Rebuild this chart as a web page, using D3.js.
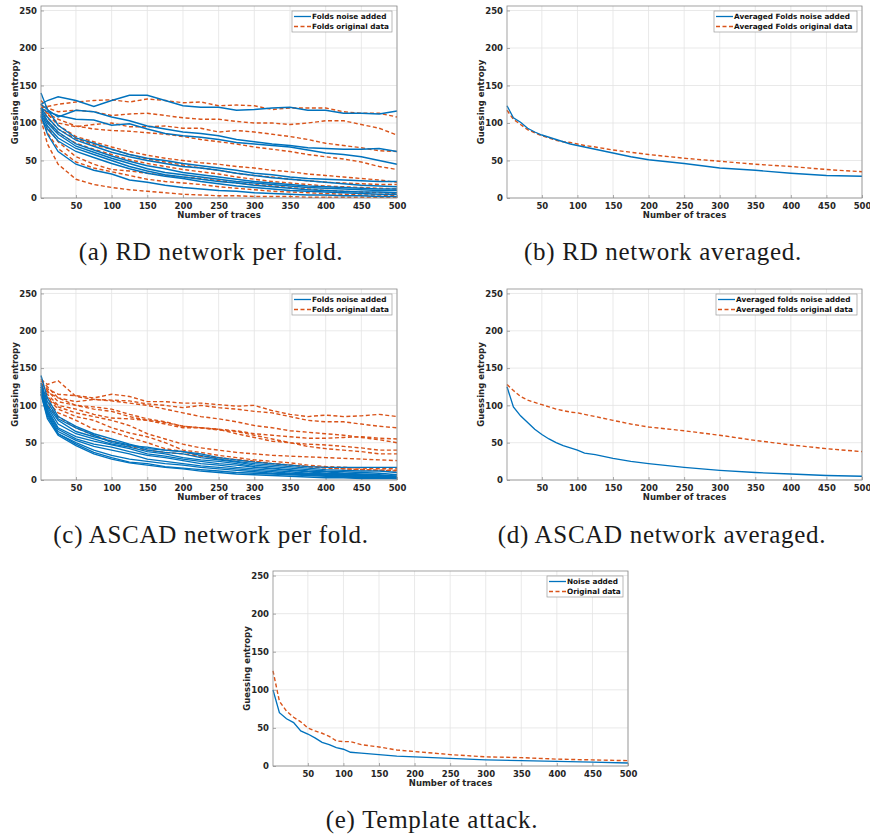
<!DOCTYPE html>
<html>
<head>
<meta charset="utf-8">
<script src="https://cdn.jsdelivr.net/npm/d3@7"></script>
<style>
  body { margin: 0; background: #fff; }
  svg { display: block; }
  .tick text { font-family: "DejaVu Sans", sans-serif; font-weight: bold; font-size: 8.5px; fill: #262626; }
</style>
</head>
<body>
<svg id="fig" width="870" height="837"></svg>
<script>
// x positions (number of traces) used for the per-fold curves
const foldX = [1, 10, 25, 50, 75, 100, 125, 150, 175, 200, 225, 250, 275, 300, 325, 350, 375, 400, 425, 450, 475, 500];
// x positions used for the averaged / template curves
const avgX = [1, 10, 20, 30, 40, 50, 60, 70, 80, 90, 100, 110, 125, 150, 175, 200, 250, 300, 350, 400, 450, 500];

const xTicks = [50, 100, 150, 200, 250, 300, 350, 400, 450, 500];
const yTicks = [0, 50, 100, 150, 200, 250];

// (a) RD network per fold
const rdNoiseFolds = [
  [125, 130, 135, 130, 122, 130, 137, 137, 130, 123, 121, 121, 117, 118, 120, 121, 117, 117, 113, 113, 112, 116],
  [125, 118, 108, 117, 115, 108, 103, 96, 92, 88, 86, 83, 78, 75, 72, 70, 67, 66, 65, 65, 66, 62],
  [120, 115, 110, 105, 104, 97, 99, 92, 86, 83, 81, 78, 74, 72, 70, 68, 64, 60, 58, 55, 50, 45],
  [140, 118, 97, 80, 73, 65, 58, 53, 50, 46, 43, 40, 37, 33, 31, 28, 26, 25, 24, 23, 22, 22],
  [120, 108, 92, 77, 69, 61, 55, 50, 46, 42, 40, 37, 33, 30, 27, 25, 23, 21, 19, 17, 16, 15],
  [118, 103, 88, 72, 64, 56, 49, 43, 39, 34, 31, 28, 25, 22, 20, 18, 16, 15, 14, 13, 12, 12],
  [115, 100, 85, 69, 61, 53, 46, 39, 34, 31, 28, 25, 22, 20, 18, 16, 14, 13, 12, 11, 10, 10],
  [112, 96, 80, 66, 58, 50, 42, 36, 31, 28, 25, 22, 20, 17, 15, 13, 11, 10, 9, 8, 8, 7],
  [108, 92, 76, 62, 54, 46, 39, 33, 29, 26, 22, 19, 16, 14, 12, 10, 9, 8, 7, 6, 5, 5],
  [110, 85, 62, 45, 37, 32, 24, 21, 17, 14, 12, 10, 9, 7, 6, 5, 4, 4, 3, 3, 2, 2]
];
const rdOrigFolds = [
  [120, 122, 125, 128, 130, 131, 128, 132, 130, 127, 128, 123, 124, 123, 118, 120, 120, 120, 115, 113, 113, 108],
  [130, 120, 115, 117, 115, 110, 112, 113, 110, 107, 105, 105, 102, 100, 100, 98, 100, 103, 103, 98, 93, 84],
  [125, 112, 100, 95, 98, 100, 95, 95, 96, 93, 93, 88, 90, 88, 85, 82, 78, 73, 70, 67, 63, 62],
  [120, 113, 105, 96, 92, 90, 89, 87, 85, 82, 78, 75, 72, 68, 65, 62, 58, 55, 52, 48, 42, 38],
  [125, 112, 97, 82, 75, 68, 62, 57, 53, 50, 47, 45, 42, 40, 37, 35, 32, 30, 28, 26, 24, 21],
  [120, 107, 92, 79, 71, 65, 58, 52, 48, 44, 40, 37, 33, 30, 28, 25, 23, 21, 20, 19, 18, 18],
  [118, 102, 87, 73, 65, 58, 51, 46, 42, 38, 35, 32, 28, 25, 22, 20, 18, 16, 15, 14, 13, 12],
  [115, 95, 75, 55, 45, 38, 36, 33, 30, 28, 26, 23, 20, 18, 16, 14, 12, 10, 9, 8, 7, 6],
  [110, 87, 66, 48, 40, 35, 30, 25, 22, 20, 18, 15, 13, 11, 9, 8, 7, 6, 5, 4, 4, 3],
  [105, 72, 45, 25, 18, 14, 11, 9, 7, 5, 4, 3, 3, 2, 2, 2, 1, 1, 1, 1, 1, 1]
];

// (b) RD network averaged
const rdNoiseAvg = [123, 107, 101, 93, 88, 84, 81, 78, 75, 72, 70, 68, 65, 60, 55, 51, 46, 40, 37, 33, 30, 29];
const rdOrigAvg = [117, 105, 98, 91, 87, 83, 80, 77, 75, 74, 72, 70, 68, 64, 61, 58, 53, 49, 45, 42, 38, 35];

// (c) ASCAD network per fold
const ascadNoiseFolds = [
  [140, 110, 85, 72, 62, 55, 48, 42, 40, 38, 35, 30, 27, 24, 22, 20, 18, 17, 17, 17, 17, 17],
  [130, 105, 82, 70, 60, 50, 46, 44, 40, 38, 33, 28, 25, 22, 20, 18, 16, 14, 13, 12, 12, 10],
  [128, 100, 80, 65, 58, 52, 47, 40, 37, 35, 30, 27, 24, 20, 18, 16, 14, 12, 11, 10, 9, 7],
  [125, 98, 75, 62, 55, 48, 44, 38, 35, 30, 27, 25, 22, 18, 16, 14, 12, 11, 9, 8, 7, 5],
  [125, 95, 70, 58, 52, 47, 42, 35, 32, 28, 25, 22, 20, 17, 15, 13, 11, 9, 8, 7, 6, 5],
  [122, 92, 68, 55, 48, 44, 38, 33, 30, 26, 22, 20, 17, 15, 13, 11, 9, 8, 7, 6, 5, 4],
  [120, 90, 65, 53, 45, 40, 35, 28, 25, 22, 19, 17, 15, 13, 11, 9, 8, 7, 6, 5, 4, 3],
  [118, 88, 62, 50, 40, 33, 28, 25, 22, 20, 17, 15, 13, 11, 9, 8, 7, 6, 5, 4, 3, 3],
  [115, 85, 62, 48, 37, 30, 24, 22, 18, 16, 14, 12, 10, 9, 8, 7, 6, 5, 4, 3, 3, 2],
  [115, 82, 60, 46, 35, 28, 23, 20, 17, 15, 12, 10, 8, 7, 6, 5, 4, 3, 3, 2, 2, 2]
];
const ascadOrigFolds = [
  [130, 122, 115, 113, 110, 115, 112, 105, 105, 103, 103, 101, 99, 100, 93, 88, 85, 87, 85, 86, 88, 85],
  [125, 118, 110, 105, 108, 107, 106, 102, 100, 97, 100, 97, 95, 92, 90, 85, 80, 78, 78, 75, 72, 70],
  [133, 125, 110, 100, 98, 95, 88, 82, 78, 72, 70, 68, 66, 62, 60, 58, 56, 56, 57, 58, 56, 55],
  [128, 120, 105, 100, 95, 92, 85, 80, 75, 70, 70, 67, 65, 60, 55, 50, 48, 47, 45, 43, 40, 40],
  [122, 115, 100, 95, 88, 83, 82, 80, 77, 72, 70, 68, 62, 57, 52, 50, 45, 42, 40, 38, 35, 35],
  [125, 112, 98, 90, 85, 80, 73, 62, 55, 48, 43, 40, 37, 35, 33, 32, 31, 30, 29, 28, 27, 26],
  [120, 110, 95, 85, 80, 70, 63, 58, 50, 40, 37, 33, 30, 27, 25, 23, 20, 18, 17, 16, 15, 15],
  [118, 105, 90, 80, 68, 65, 57, 50, 42, 38, 32, 30, 27, 25, 22, 20, 18, 16, 15, 14, 13, 13],
  [135, 128, 133, 112, 108, 106, 103, 100, 95, 90, 85, 82, 78, 73, 70, 66, 64, 62, 60, 57, 54, 50],
  [115, 100, 85, 70, 60, 52, 45, 40, 37, 35, 32, 30, 27, 25, 22, 20, 18, 17, 15, 14, 13, 12]
];

// (d) ASCAD network averaged
const ascadNoiseAvg = [125, 98, 86, 77, 68, 61, 55, 50, 46, 43, 40, 36, 34, 29, 25, 22, 17, 13, 10, 8, 6, 5];
const ascadOrigAvg = [128, 120, 112, 107, 104, 101, 98, 95, 93, 91, 90, 88, 85, 80, 75, 71, 66, 60, 53, 47, 42, 38];

// (e) Template attack
const templNoise = [100, 70, 62, 57, 46, 42, 37, 31, 28, 24, 22, 18, 17, 15, 13, 12, 10, 8, 7, 6, 5, 4];
const templOrig = [125, 85, 72, 64, 58, 50, 46, 43, 39, 33, 32, 32, 28, 25, 21, 19, 15, 12, 11, 9, 8, 7];

const blue = "#0072BD";
const orange = "#D95319";

const svg = d3.select("#fig");

function drawPanel(p) {
  const g = svg.append("g");
  const x = d3.scaleLinear().domain([1, 500]).range([p.left, p.right]);
  const y = d3.scaleLinear().domain([0, 256]).range([p.bottom, p.top]);

  // grid
  g.append("g").selectAll("line").data(xTicks).join("line")
    .attr("x1", d => x(d)).attr("x2", d => x(d))
    .attr("y1", p.top).attr("y2", p.bottom)
    .attr("stroke", "#e3e3e3").attr("stroke-width", 0.8);
  g.append("g").selectAll("line").data(yTicks).join("line")
    .attr("x1", p.left).attr("x2", p.right)
    .attr("y1", d => y(d)).attr("y2", d => y(d))
    .attr("stroke", "#e3e3e3").attr("stroke-width", 0.8);

  // axes (ticks inward like matlab)
  const xAxis = d3.axisBottom(x).tickValues(xTicks).tickSize(-3).tickPadding(5);
  const yAxis = d3.axisLeft(y).tickValues(yTicks).tickSize(-3).tickPadding(4);
  const gx = g.append("g").attr("transform", `translate(0,${p.bottom})`).call(xAxis);
  const gy = g.append("g").attr("transform", `translate(${p.left},0)`).call(yAxis);
  [gx, gy].forEach(a => {
    a.select(".domain").remove();
    a.selectAll(".tick line").attr("stroke", "#777").attr("stroke-width", 0.6);
  });

  const line = d3.line().x(d => x(d[0])).y(d => y(d[1]));

  // original data first, noise on top
  p.orig.forEach(s => {
    g.append("path").datum(p.xs.map((xv, i) => [xv, s[i]]))
      .attr("d", line).attr("fill", "none")
      .attr("stroke", orange).attr("stroke-width", 1.4)
      .attr("stroke-dasharray", "4,2.5");
  });
  p.noise.forEach(s => {
    g.append("path").datum(p.xs.map((xv, i) => [xv, s[i]]))
      .attr("d", line).attr("fill", "none")
      .attr("stroke", blue).attr("stroke-width", 1.35);
  });

  // box
  g.append("rect").attr("x", p.left).attr("y", p.top)
    .attr("width", p.right - p.left).attr("height", p.bottom - p.top)
    .attr("fill", "none").attr("stroke", "#8c8c8c").attr("stroke-width", 0.8);

  // axis labels
  g.append("text")
    .attr("x", (p.left + p.right) / 2).attr("y", p.bottom + 20)
    .attr("text-anchor", "middle")
    .attr("font-family", "DejaVu Sans").attr("font-weight", "bold").attr("font-size", 8.5)
    .attr("fill", "#262626")
    .text("Number of traces");
  g.append("text")
    .attr("transform", `translate(${p.left - 23},${(p.top + p.bottom) / 2}) rotate(-90)`)
    .attr("text-anchor", "middle")
    .attr("font-family", "DejaVu Sans").attr("font-weight", "bold").attr("font-size", 8.5)
    .attr("fill", "#262626")
    .text("Guessing entropy");

  // legend
  const lx = p.right - 5 - p.legW, ly = p.top + 5;
  const lg = g.append("g");
  lg.append("rect").attr("x", lx).attr("y", ly).attr("width", p.legW).attr("height", 21)
    .attr("fill", "#fff").attr("stroke", "#9a9a9a").attr("stroke-width", 0.7);
  p.legend.forEach((t, i) => {
    const yy = ly + 5.5 + i * 10;
    lg.append("line").attr("x1", lx + 2).attr("x2", lx + 19).attr("y1", yy).attr("y2", yy)
      .attr("stroke", i === 0 ? blue : orange).attr("stroke-width", 1.3)
      .attr("stroke-dasharray", i === 0 ? null : "4,2.5");
    lg.append("text").attr("x", lx + 20).attr("y", yy + 2.6)
      .attr("font-family", "DejaVu Sans").attr("font-weight", "bold").attr("font-size", 7.3)
      .attr("fill", "#111")
      .text(t);
  });

  // caption
  svg.append("text")
    .attr("x", p.capX).attr("y", p.capY)
    .attr("text-anchor", "middle")
    .attr("font-family", "Liberation Serif").attr("font-size", 25)
    .attr("letter-spacing", 0.7)
    .attr("fill", "#1a1a1a")
    .text(p.caption);
}

drawPanel({ left: 41, right: 397, top: 6, bottom: 198, xs: foldX,
  noise: rdNoiseFolds, orig: rdOrigFolds, legW: 100,
  legend: ["Folds noise added", "Folds original data"],
  caption: "(a) RD network per fold.", capX: 211, capY: 260 });

drawPanel({ left: 507, right: 862, top: 6, bottom: 198, xs: avgX,
  noise: [rdNoiseAvg], orig: [rdOrigAvg], legW: 143,
  legend: ["Averaged Folds noise added", "Averaged Folds original data"],
  caption: "(b) RD network averaged.", capX: 663, capY: 260 });

drawPanel({ left: 41, right: 397, top: 289, bottom: 480, xs: foldX,
  noise: ascadNoiseFolds, orig: ascadOrigFolds, legW: 100,
  legend: ["Folds noise added", "Folds original data"],
  caption: "(c) ASCAD network per fold.", capX: 211, capY: 543 });

drawPanel({ left: 507, right: 862, top: 289, bottom: 480, xs: avgX,
  noise: [ascadNoiseAvg], orig: [ascadOrigAvg], legW: 141,
  legend: ["Averaged folds noise added", "Averaged folds original data"],
  caption: "(d) ASCAD network averaged.", capX: 662, capY: 543 });

drawPanel({ left: 273, right: 628, top: 571, bottom: 766, xs: avgX,
  noise: [templNoise], orig: [templOrig], legW: 76,
  legend: ["Noise added", "Original data"],
  caption: "(e) Template attack.", capX: 432, capY: 828 });
</script>
</body>
</html>
